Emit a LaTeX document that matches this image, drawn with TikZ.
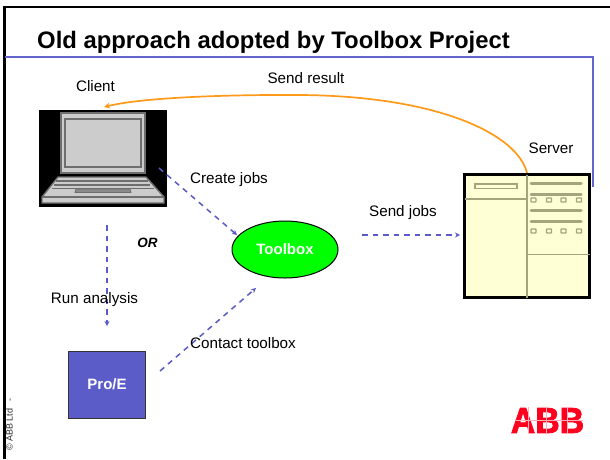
\documentclass[tikz,border=0pt]{standalone}
\usepackage{fontspec}
\setmainfont{Liberation Sans}
\newfontfamily\abbfont[FakeBold=2.2]{Liberation Sans Bold}
\usetikzlibrary{arrows.meta,shapes.geometric}
\definecolor{rule}{RGB}{100,100,205}
\definecolor{flow}{RGB}{90,90,200}
\definecolor{orangeline}{RGB}{255,153,26}
\definecolor{cream}{RGB}{255,255,214}
\definecolor{srvline}{RGB}{165,165,125}
\definecolor{lapfill}{RGB}{204,204,204}
\definecolor{lapline}{RGB}{110,110,110}
\definecolor{proe}{RGB}{92,92,200}
\definecolor{abbred}{RGB}{255,0,30}
\tikzset{
 lbl/.style={font=\fontsize{15.2}{17}\selectfont,inner sep=0pt,anchor=base},
 flowline/.style={draw=flow,line width=1.5pt,dash pattern=on 5.500pt off 5pt,-{Stealth[length=5pt,width=5pt]}},
 srv/.style={draw=srvline,line width=1.6pt},
 srvfat/.style={draw=srvline,line width=3pt},
 btn/.style={draw=srvline,line width=1.4pt,fill=cream,rounded corners=.6pt},
 lap/.style={draw=lapline,fill=lapfill,line width=1.4pt},
}
\begin{document}
\begin{tikzpicture}[x=1pt,y=-1pt]
\useasboundingbox (0,0) rectangle (610,459);
% frame
\draw[line width=2.6pt] (610,7) -- (4.7,7) -- (4.7,459);
\draw[rule,line width=1.3pt] (5,57) -- (593,57) -- (593,187);
\node[anchor=base west,inner sep=0pt,font=\fontsize{23.850}{28}\selectfont\bfseries] (title) at (37,48) {Old approach adopted by Toolbox Project};
% laptop
\node[draw=none,fill=black,minimum width=128pt,minimum height=97pt,inner sep=0pt] (client) at (103,158.5) {};
\draw[lap] (61,113) rectangle (145,173);
\draw[lap] (65,119) rectangle (141,167);
\draw[lap] (58,177) -- (146,177) -- (164,197) -- (164,203) -- (42,203) -- (42,197) -- cycle;
\draw[lapline,line width=1.2pt] (42,197) -- (164,197);
\draw[lapline,line width=1.4pt] (56,181) -- (148,181);
\draw[lapline,line width=1.4pt] (54,185) -- (150,185);
\draw[lapline,line width=1.4pt] (52,188.500) -- (154,188.500);
\draw[lapline,fill=lapline!70!lapfill,line width=.8pt] (76,189) -- (130,189) -- (131,192.500) -- (75,192.500) -- cycle;
% server
\node[draw=black,line width=3.200pt,fill=cream,minimum width=125pt,minimum height=123pt,inner sep=0pt] (server) at (527,236) {};
\draw[srv] (465,199) -- (527,199);
\draw[srv] (527,174.500) -- (527,297.500);
\draw[srv] (527,254.500) -- (589.500,254.500);
\draw[draw=srvline,line width=1.3pt,fill=cream] (475,184) rectangle (517,188.500);
\foreach \y in {183,194,210,221.500}{\draw[srvfat,line cap=round] (531,\y) -- (581,\y);}
\foreach \y in {200,231}{\foreach \x in {533.500,549,563.500,579}{\draw[btn] (\x-2.500,\y-2) rectangle (\x+2.500,\y+2);}}
% toolbox
\node[ellipse,draw=black,fill=green,line width=1pt,minimum width=106pt,minimum height=57pt,inner sep=0pt,text=white,font=\fontsize{15}{17}\selectfont\bfseries] (toolbox) at (285,249.500) {Toolbox};
% Pro/E
\node[draw=black!80,fill=proe,line width=1pt,minimum width=77pt,minimum height=67pt,inner sep=0pt,text=white,font=\fontsize{15}{17}\selectfont\bfseries] (proe) at (107,384.500) {Pro/E};
% connector ends
\coordinate (cA) at (159,168);
\coordinate (tA) at (237,235);
\coordinate (cB) at (362,235);
\coordinate (sB) at (460,235);
\coordinate (cC) at (107,225);
\coordinate (pC) at (107,326);
\coordinate (pD) at (160,371);
\coordinate (tD) at (256,288);
\coordinate (sE) at (527,173);
\coordinate (cE) at (104,107);
\draw[flowline] (cA) -- (tA);
\draw[flowline] (cB) -- (sB);
\draw[flowline] (cC) -- (pC);
\draw[flowline] (pD) -- (tD);
\draw[draw=orangeline,line width=1.7pt,-{Stealth[length=6pt,width=6pt]}] (sE) .. controls (518,135) and (440,96) .. (300,95) .. controls (220,94.5) and (140,98) .. (cE);
% labels
\node[lbl] (lclient) at (95.5,91) {Client};
\node[lbl] (lresult) at (306,83) {Send result};
\node[lbl] (lserver) at (551,153) {Server};
\node[lbl] (lcreate) at (229,183) {Create jobs};
\node[lbl] (lsend) at (403,216) {Send jobs};
\node[lbl,font=\fontsize{13.5}{15}\selectfont\bfseries\itshape] (lor) at (147.5,247) {OR};
\node[lbl] (lrun) at (94.5,303) {Run analysis};
\node[lbl] (lcontact) at (243,348) {Contact toolbox};
% copyright
\node[rotate=90,anchor=west,inner sep=0pt,text=black!85,font=\fontsize{9}{10}\selectfont] (copy) at (9.500,451) {© ABB Ltd ~ -};
% logo
\node[inner sep=0pt,text=abbred,font=\fontsize{36}{38}\abbfont,anchor=center,xscale=.94] (abb) at (547.5,420.500) {ABB};
\draw[white!70!abbred,line width=.7pt] (516,420.500) -- (583,420.500);
\draw[white!70!abbred,line width=.7pt] (528,407) -- (528,434);
\draw[white!70!abbred,line width=.7pt] (546,407) -- (546,434);
\draw[white!70!abbred,line width=.7pt] (567,407) -- (567,434);
\end{tikzpicture}
\end{document}
